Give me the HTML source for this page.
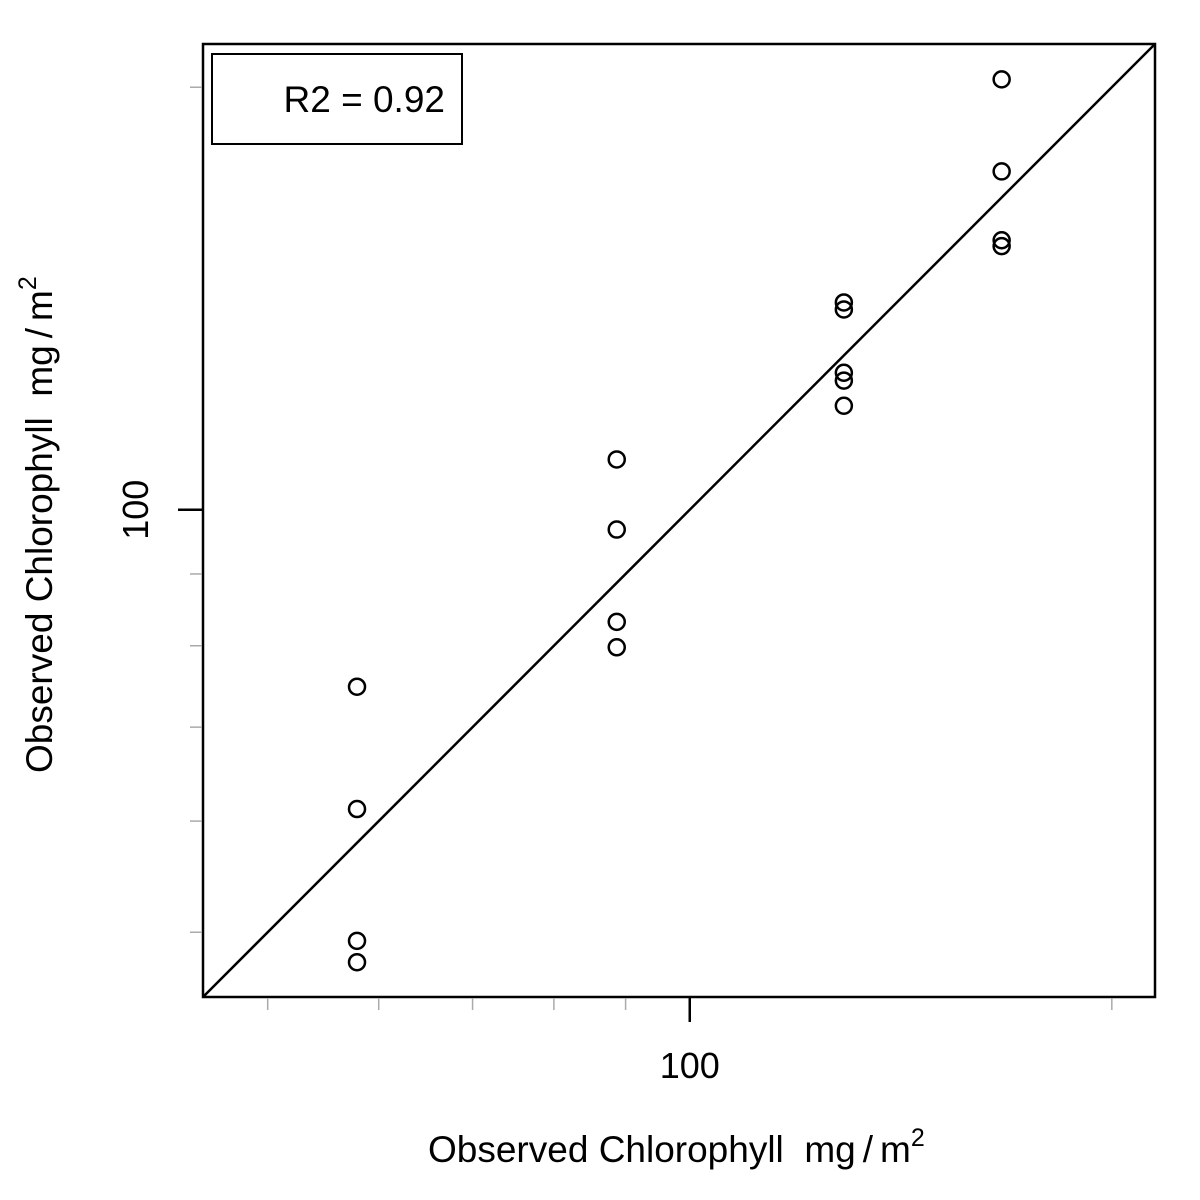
<!DOCTYPE html>
<html><head><meta charset="utf-8"><style>
html,body{margin:0;padding:0;background:#fff;}
svg{display:block;font-family:"Liberation Sans",Arial,sans-serif;}
</style></head><body>
<svg id="chart" width="1200" height="1200" viewBox="0 0 1200 1200">
<rect x="203" y="44" width="952" height="953" fill="none" stroke="#000" stroke-width="2.5"/>
<g id="marks"></g>
<g id="axes"></g>
<rect x="212" y="54" width="250" height="90" fill="#fff" stroke="#000" stroke-width="2"/>
<text x="445" y="112" font-size="37" text-anchor="end">R2 = 0.92</text>
<text x="428" y="1162" font-size="37" xml:space="preserve">Observed Chlorophyll  mg<tspan dx="7">/</tspan><tspan dx="7">m</tspan><tspan dy="-16" font-size="25">2</tspan></text>
<text transform="translate(52,773) rotate(-90)" font-size="37" xml:space="preserve">Observed Chlorophyll  mg<tspan dx="7">/</tspan><tspan dx="7">m</tspan><tspan dy="-16" font-size="25">2</tspan></text>
</svg>
<script>
const xValues = [57.9,57.9,57.9,57.9, 88.7,88.7,88.7,88.7, 128.8,128.8,128.8,128.8,128.8, 166.9,166.9,166.9,166.9];
const yValues = [74.8,61.2,49.3,47.6, 108.6,96.8,83.2,79.8, 140.5,138.9,125.2,123.6,118.6, 202.6,174.2,155.6,154.1];
const majorTicks = [100];
const majorTickLabels = ["100"];
const minorTicks = [50,60,70,80,90,200];
const domainMin = 44.96, domainMax = 214.7;

const NS = "http://www.w3.org/2000/svg";
const L0 = Math.log10(domainMin), L1 = Math.log10(domainMax);
function sx(v){ return 203 + (Math.log10(v)-L0)/(L1-L0)*952; }
function sy(v){ return 997 - (Math.log10(v)-L0)/(L1-L0)*953; }
function mk(tag, attrs, parent){ const e=document.createElementNS(NS,tag); for(const k in attrs) e.setAttribute(k,attrs[k]); parent.appendChild(e); return e; }
const marks=document.getElementById('marks'), axes=document.getElementById('axes');

const line = mk('line',{x1:sx(domainMin),y1:sy(domainMin),x2:sx(domainMax),y2:sy(domainMax),stroke:'#000','stroke-width':2.5},marks);



xValues.forEach((xv,i)=>{
  const c = mk('circle',{cx:sx(xv),cy:sy(yValues[i]),r:8,fill:'none',stroke:'#000','stroke-width':2.5},marks);
  
  
});

minorTicks.forEach(t=>{
  const a = mk('line',{x1:sx(t),x2:sx(t),y1:998,y2:1010,stroke:'#aaa','stroke-width':1.5},axes);
  
  
  const b = mk('line',{x1:190,x2:202,y1:sy(t),y2:sy(t),stroke:'#aaa','stroke-width':1.5},axes);
  
  
});
majorTicks.forEach((t,i)=>{
  const a = mk('line',{x1:sx(t),x2:sx(t),y1:998,y2:1022,stroke:'#000','stroke-width':2.5},axes);
  
  
  const ta = mk('text',{x:sx(t),y:1078,'font-size':36,'text-anchor':'middle'},axes);
  ta.textContent = majorTickLabels[i];
  
  
  const b = mk('line',{x1:178,x2:202,y1:sy(t),y2:sy(t),stroke:'#000','stroke-width':2.5},axes);
  
  
  const tb = mk('text',{transform:`translate(148,${sy(t)}) rotate(-90)`,'font-size':36,'text-anchor':'middle'},axes);
  tb.textContent = majorTickLabels[i];
  
  
});
</script>
</body></html>
